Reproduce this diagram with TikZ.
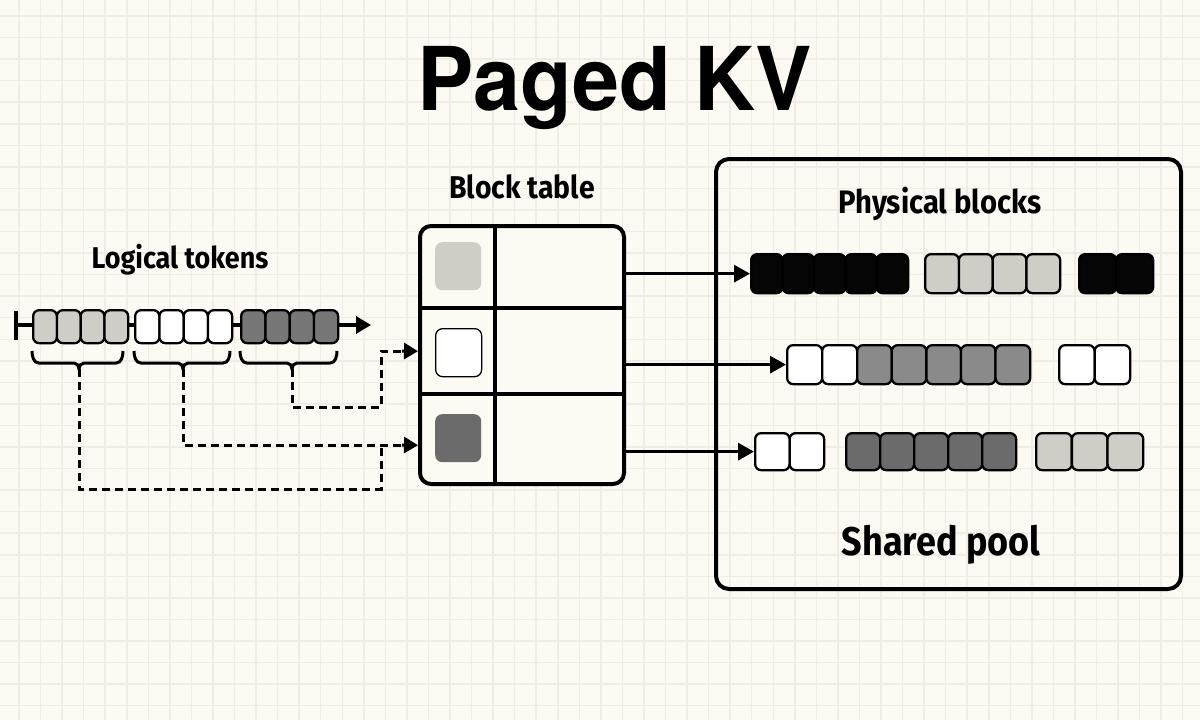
\documentclass[tikz,border=0pt]{standalone}
\usepackage{fontspec}
\usetikzlibrary{arrows.meta}
\newfontfamily\labfont[FakeStretch=0.9]{Fira Sans}
\newfontfamily\titlefont[FakeStretch=0.96]{TeX Gyre Heros}
\definecolor{bgc}{HTML}{FCFAF3}
\definecolor{gridc}{HTML}{F0EDE4}
\definecolor{lightc}{HTML}{D0CDC7}
\definecolor{midc}{HTML}{8A8A8A}
\definecolor{darkc}{HTML}{6B6B6B}
\definecolor{ldarkc}{HTML}{777777}
\definecolor{whitec}{HTML}{FFFFFF}
\definecolor{blackc}{HTML}{050505}
\tikzset{
  cellst/.style={draw=black, line width=2.3pt, rounded corners=6pt, inner sep=0pt, anchor=north west},
  lab/.style={font=\labfont\bfseries\fontsize{30}{36}\selectfont, anchor=base, inner sep=0pt},
  conn/.style={line width=3.2pt, -{Triangle[length=16pt,width=17pt]}},
  dconn/.style={line width=3pt, dash pattern=on 8pt off 5pt},
  bracest/.style={line width=3pt},
  frame/.style={draw=black, line width=4pt, inner sep=0pt, anchor=north west},
}
\newcommand{\cellrow}[7]{%
  \foreach \k in {1,...,#6}{%
    \node[cellst, fill=#7, minimum width=#4pt, minimum height=#5pt] (#1-\k) at ({#2+(\k-1)*#4},#3) {};
  }%
}
\newcommand{\bracepath}[4]{% x1, x2, center, name
  \draw[bracest] (#1,351) to[out=-90,in=180] (#1+7,363) -- (#3-5,363) to[out=0,in=90] (#3,369)
     to[out=90,in=180] (#3+5,363) -- (#2-7,363) to[out=0,in=-90] (#2,351);
  \coordinate (#4) at (#3,369);
}
\begin{document}
\begin{tikzpicture}[x=1pt,y=-1pt]
\useasboundingbox (0,0) rectangle (1200,720);
\fill[bgc] (0,0) rectangle (1200,720);
\foreach \i in {0,...,55}{\draw[gridc, line width=1.5pt] ({19+21.55*\i},0) -- ++(0,720);}
\foreach \i in {0,...,33}{\draw[gridc, line width=1.5pt] (0,{16+21.55*\i}) -- ++(1200,0);}

% title
\node[font=\titlefont\bfseries\fontsize{88}{100}\selectfont, anchor=base, inner sep=0pt] (title) at (615,110) {Paged KV};

% labels
\node[lab] (lt) at (180,268) {Logical tokens};
\node[lab, font=\labfont\bfseries\fontsize{31.5}{38}\selectfont] (btl) at (522,198) {Block table};

% logical token line
\coordinate (ls) at (14,325);
\coordinate (le) at (371,325);
\draw[line width=3.2pt, {Bar[width=29pt,line width=3.5pt]}-{Triangle[length=15pt,width=17pt]}] (ls) -- (le);
\cellrow{LA}{32}{309}{23.75}{33}{4}{lightc}
\cellrow{LB}{134}{309}{24.25}{33}{4}{whitec}
\cellrow{LC}{240}{309}{24.25}{33}{4}{ldarkc}

% braces
\bracepath{32}{123}{79}{b1}
\bracepath{134}{230}{183}{b2}
\bracepath{240}{337}{292}{b3}

% block table
\node[frame, rounded corners=11pt, minimum width=204pt, minimum height=258pt, fill=bgc] (bt) at (418,224) {};
\node[inner sep=0pt, minimum width=204pt, minimum height=84pt, anchor=north west] (r1) at (418,224) {};
\node[inner sep=0pt, minimum width=204pt, minimum height=86pt, anchor=north west] (r2) at (418,308) {};
\node[inner sep=0pt, minimum width=204pt, minimum height=88pt, anchor=north west] (r3) at (418,394) {};
\draw[line width=3.2pt] (495,224) -- (495,482);
\draw[line width=3.2pt] (418,308) -- (622,308);
\draw[line width=3.2pt] (418,394) -- (622,394);
\node[inner sep=0pt, rounded corners=7pt, fill=lightc, minimum width=46pt, minimum height=48pt, anchor=north west] (s1) at (435,242) {};
\node[draw=black, line width=1.3pt, inner sep=0pt, rounded corners=7pt, fill=whitec, minimum width=46pt, minimum height=48pt, anchor=north west] (s2) at (435,328) {};
\node[inner sep=0pt, rounded corners=7pt, fill=darkc, minimum width=46pt, minimum height=48pt, anchor=north west] (s3) at (435,414) {};

% dashed connectors
\draw[dconn] (b3) |- (381,407) |- (r2.west);
\draw[dconn] (b2) |- ([yshift=-7pt]r3.west);
\draw[dconn] (b1) |- (381,489) -- (381,445);
\draw[line width=3pt, -{Triangle[length=14pt,width=16pt]}] (402,351) -- (r2.west);
\draw[line width=3pt, -{Triangle[length=14pt,width=16pt]}] (402,445) -- ([yshift=-7pt]r3.west);

% pool
\node[frame, rounded corners=13pt, minimum width=465pt, minimum height=430pt] (pool) at (714,157) {};
\node[lab, font=\labfont\bfseries\fontsize{32.5}{39}\selectfont] (pbl) at (940,213) {Physical blocks};
\node[lab, font=\labfont\bfseries\fontsize{40}{48}\selectfont] (spl) at (941,555) {Shared pool};

\cellrow{PA}{750}{253}{31.4}{39}{5}{blackc}
\cellrow{PB}{924}{253}{33.75}{39}{4}{lightc}
\cellrow{PC}{1078}{253}{37}{39}{2}{blackc}

\cellrow{QA}{786}{344}{35}{39}{2}{whitec}
\cellrow{QB}{856}{344}{34.6}{39}{5}{midc}
\cellrow{QC}{1058}{344}{35.5}{39}{2}{whitec}

\cellrow{RA}{754}{432}{34.5}{37}{2}{whitec}
\cellrow{RB}{845}{432}{34}{37}{5}{darkc}
\cellrow{RC}{1035}{432}{35.7}{37}{3}{lightc}

% solid connectors
\draw[conn] (bt.east |- PA-1.west) -- (PA-1.west);
\draw[conn] (bt.east |- QA-1.west) -- (QA-1.west);
\draw[conn] (bt.east |- RA-1.west) -- (RA-1.west);
\end{tikzpicture}
\end{document}
